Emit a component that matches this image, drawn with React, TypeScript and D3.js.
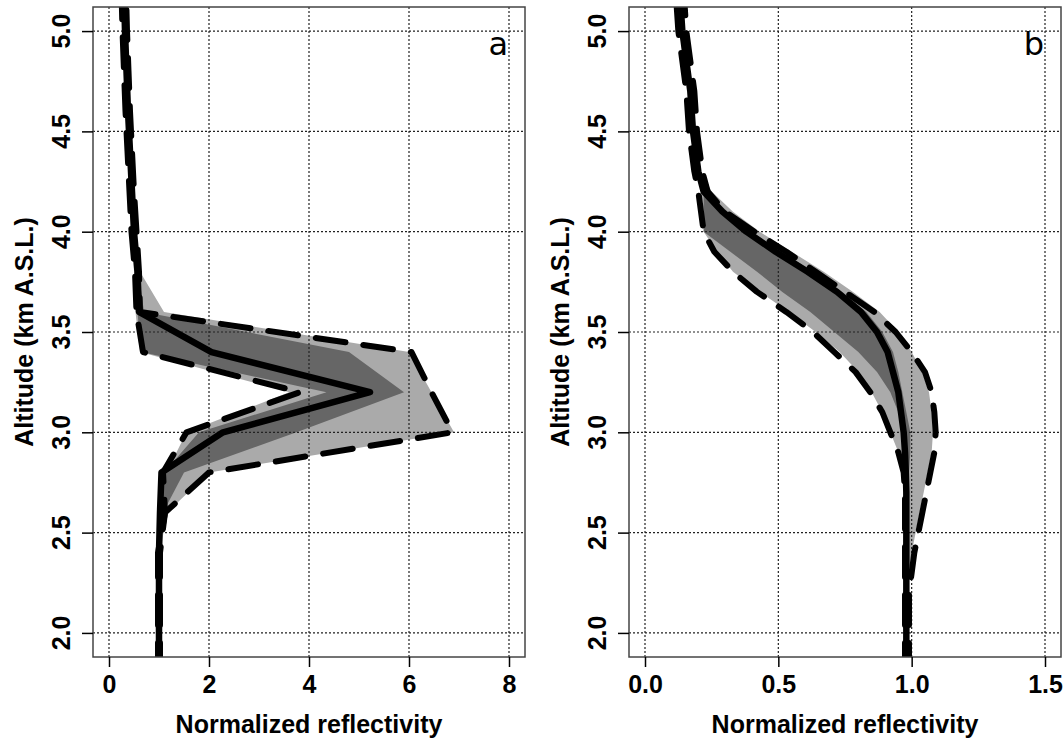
import React, { useEffect, useRef } from "react";
import * as d3 from "d3";

// panel a, profile levels every 0.2 km
const altA = [1.8, 2.0, 2.2, 2.4, 2.6, 2.8, 3.0, 3.2, 3.4, 3.6, 3.8, 4.0, 4.2, 4.4, 4.6, 4.8, 5.0, 5.2];
const medianA = [1.0, 1.0, 1.0, 1.0, 1.02, 1.05, 2.28, 5.22, 2.05, 0.6, 0.57, 0.5, 0.46, 0.42, 0.38, 0.35, 0.32, 0.3];
const lowA = [0.98, 0.98, 0.98, 0.98, 1.12, 1.08, 1.55, 3.82, 0.68, 0.55, 0.52, 0.45, 0.41, 0.37, 0.33, 0.3, 0.27, 0.25];
const highA = [1.02, 1.02, 1.02, 1.02, 1.12, 2.0, 6.87, 6.45, 6.05, 0.62, 0.6, 0.55, 0.5, 0.46, 0.42, 0.39, 0.36, 0.34];
const outerLoA = [0.98, 0.98, 0.98, 0.98, 1.06, 1.15, 1.55, 3.6, 0.62, 0.53, 0.5, 0.46, 0.42, 0.38, 0.34, 0.31, 0.28, 0.26];
const outerHiA = [1.02, 1.02, 1.02, 1.02, 1.16, 2.0, 6.9, 6.45, 6.0, 1.1, 0.62, 0.55, 0.5, 0.46, 0.42, 0.39, 0.36, 0.34];
const innerLoA = [1.0, 1.0, 1.0, 1.0, 1.04, 1.1, 1.8, 4.35, 0.64, 0.57, 0.55, 0.49, 0.45, 0.41, 0.37, 0.34, 0.31, 0.29];
const innerHiA = [1.0, 1.0, 1.0, 1.0, 1.08, 1.5, 3.75, 5.9, 4.8, 0.7, 0.59, 0.51, 0.47, 0.43, 0.39, 0.36, 0.33, 0.31];
const xTicksA = [0, 2, 4, 6, 8];

// panel b, profile levels every 0.1 km
const altB = [1.8, 1.9, 2.0, 2.1, 2.2, 2.3, 2.4, 2.5, 2.6, 2.7, 2.8, 2.9, 3.0, 3.1, 3.2, 3.3, 3.4, 3.5, 3.6, 3.7, 3.8, 3.9, 4.0, 4.1, 4.2, 4.3, 4.4, 4.5, 4.6, 4.7, 4.8, 4.9, 5.0, 5.1, 5.2];
const medianB = [0.98, 0.98, 0.98, 0.98, 0.98, 0.98, 0.98, 0.98, 0.98, 0.98, 0.978, 0.975, 0.97, 0.96, 0.95, 0.93, 0.91, 0.87, 0.81, 0.72, 0.61, 0.49, 0.38, 0.29, 0.22, 0.2, 0.19, 0.18, 0.175, 0.17, 0.16, 0.15, 0.14, 0.135, 0.13];
const lowB = [0.975, 0.975, 0.975, 0.975, 0.975, 0.975, 0.975, 0.975, 0.975, 0.975, 0.97, 0.95, 0.92, 0.89, 0.845, 0.79, 0.71, 0.63, 0.53, 0.42, 0.33, 0.26, 0.22, 0.21, 0.2, 0.185, 0.175, 0.165, 0.16, 0.155, 0.145, 0.135, 0.125, 0.12, 0.115];
const highB = [0.99, 0.99, 0.99, 0.99, 0.99, 1.0, 1.01, 1.025, 1.04, 1.055, 1.07, 1.085, 1.09, 1.085, 1.075, 1.05, 1.0, 0.94, 0.86, 0.75, 0.64, 0.53, 0.41, 0.3, 0.235, 0.215, 0.205, 0.195, 0.19, 0.185, 0.175, 0.165, 0.155, 0.15, 0.145];
const outerLoB = [0.975, 0.975, 0.975, 0.975, 0.975, 0.975, 0.978, 0.975, 0.975, 0.97, 0.965, 0.95, 0.92, 0.89, 0.85, 0.8, 0.73, 0.64, 0.54, 0.43, 0.33, 0.27, 0.22, 0.22, 0.21, 0.19, 0.18, 0.17, 0.165, 0.16, 0.15, 0.14, 0.13, 0.125, 0.12];
const outerHiB = [0.99, 0.99, 0.99, 0.99, 0.99, 0.99, 1.0, 1.015, 1.03, 1.045, 1.06, 1.075, 1.08, 1.075, 1.065, 1.04, 1.0, 0.95, 0.88, 0.78, 0.67, 0.55, 0.43, 0.33, 0.25, 0.21, 0.2, 0.19, 0.185, 0.18, 0.17, 0.16, 0.15, 0.145, 0.14];
const innerLoB = [0.98, 0.98, 0.98, 0.98, 0.98, 0.98, 0.98, 0.98, 0.98, 0.978, 0.975, 0.97, 0.965, 0.95, 0.92, 0.87, 0.8, 0.71, 0.62, 0.515, 0.42, 0.32, 0.22, 0.22, 0.22, 0.2, 0.19, 0.18, 0.175, 0.17, 0.16, 0.15, 0.14, 0.135, 0.13];
const innerHiB = [0.98, 0.98, 0.98, 0.98, 0.98, 0.98, 0.98, 0.98, 0.98, 0.985, 0.99, 0.995, 0.995, 0.98, 0.965, 0.95, 0.93, 0.89, 0.83, 0.74, 0.63, 0.51, 0.4, 0.31, 0.23, 0.2, 0.19, 0.18, 0.175, 0.17, 0.16, 0.15, 0.14, 0.135, 0.13];
const xTicksB = [0.0, 0.5, 1.0, 1.5];

const altTicks = [2.0, 2.5, 3.0, 3.5, 4.0, 4.5, 5.0];

const TOP = 7;
const BOTTOM = 657;
const FONT = "'Liberation Sans', Arial, sans-serif";

type PanelProps = {
  left: number;
  right: number;
  domain: [number, number];
  xTicks: number[];
  fmt: (v: number) => string;
  letter: string;
  alt: number[];
  median: number[];
  low: number[];
  high: number[];
  outerLo: number[];
  outerHi: number[];
  innerLo: number[];
  innerHi: number[];
};

function Panel(props: PanelProps) {
  const ref = useRef<SVGGElement>(null);

  useEffect(() => {
    const { left, right, domain, xTicks, fmt, letter, alt } = props;
    const g = d3.select(ref.current);
    g.selectAll("*").remove();

    const x = d3.scaleLinear().domain(domain).range([left, right]);
    const y = d3.scaleLinear().domain([1.88, 5.12]).range([BOTTOM, TOP]);

    const rows = alt.map((a, i) => ({
      a,
      m: props.median[i],
      lo: props.low[i],
      hi: props.high[i],
      olo: props.outerLo[i],
      ohi: props.outerHi[i],
      ilo: props.innerLo[i],
      ihi: props.innerHi[i]
    }));

    const clipId = "clip-" + letter;
    g.append("clipPath")
      .attr("id", clipId)
      .append("rect")
      .attr("x", left)
      .attr("y", TOP)
      .attr("width", right - left)
      .attr("height", BOTTOM - TOP);

    const plot = g.append("g").attr("clip-path", `url(#${clipId})`);

    const band = (k0: string, k1: string) =>
      d3
        .area<any>()
        .y(d => y(d.a))
        .x0(d => x(d[k0]))
        .x1(d => x(d[k1]));

    plot.append("path").datum(rows).attr("d", band("olo", "ohi")).attr("fill", "#aaaaaa");
    plot.append("path").datum(rows).attr("d", band("ilo", "ihi")).attr("fill", "#666666");

    // dotted grid
    plot
      .append("g")
      .selectAll("line")
      .data(xTicks)
      .join("line")
      .attr("x1", d => x(d))
      .attr("x2", d => x(d))
      .attr("y1", TOP)
      .attr("y2", BOTTOM);
    plot
      .append("g")
      .selectAll("line")
      .data(altTicks)
      .join("line")
      .attr("x1", left)
      .attr("x2", right)
      .attr("y1", d => y(d))
      .attr("y2", d => y(d));
    plot
      .selectAll("g line")
      .attr("stroke", "#222")
      .attr("stroke-width", 1.2)
      .attr("stroke-dasharray", "2,2");

    const line = (k: string) =>
      d3
        .line<any>()
        .y(d => y(d.a))
        .x(d => x(d[k]));

    ["lo", "hi"].forEach(k => {
      plot
        .append("path")
        .datum(rows)
        .attr("d", line(k))
        .attr("fill", "none")
        .attr("stroke", "#000")
        .attr("stroke-width", 6)
        .attr("stroke-dasharray", "30,18")
        .attr("stroke-linecap", "round")
        .attr("stroke-linejoin", "round");
    });
    plot
      .append("path")
      .datum(rows)
      .attr("d", line("m"))
      .attr("fill", "none")
      .attr("stroke", "#000")
      .attr("stroke-width", 6.5)
      .attr("stroke-linejoin", "round");

    // frame
    g.append("rect")
      .attr("x", left)
      .attr("y", TOP)
      .attr("width", right - left)
      .attr("height", BOTTOM - TOP)
      .attr("fill", "none")
      .attr("stroke", "#444")
      .attr("stroke-width", 1.5);

    // x axis
    g.append("g")
      .attr("transform", `translate(0,${BOTTOM})`)
      .call(
        d3
          .axisBottom(x)
          .tickValues(xTicks)
          .tickSize(10)
          .tickPadding(8)
          .tickFormat(d => fmt(d as number))
      )
      .call(ax => {
        ax.select(".domain").remove();
        ax.attr("font-size", 25).attr("font-family", FONT).attr("font-weight", "bold");
        ax.selectAll("line").attr("stroke-width", 1.5);
      });

    // y axis ticks, rotated labels
    g.append("g")
      .attr("transform", `translate(${left},0)`)
      .call(d3.axisLeft(y).tickValues(altTicks).tickSize(11).tickFormat(() => ""))
      .call(ax => {
        ax.select(".domain").remove();
        ax.selectAll("line").attr("stroke-width", 1.5);
      });

    g.append("g")
      .selectAll("text")
      .data(altTicks)
      .join("text")
      .attr("transform", d => `translate(${left - 23},${y(d)}) rotate(-90)`)
      .attr("text-anchor", "middle")
      .attr("font-size", 25)
      .attr("font-family", FONT)
      .attr("font-weight", "bold")
      .text(d => d3.format(".1f")(d));

    g.append("text")
      .attr("x", (left + right) / 2)
      .attr("y", 733)
      .attr("text-anchor", "middle")
      .attr("font-size", 25)
      .attr("font-family", FONT)
      .attr("font-weight", "bold")
      .text("Normalized reflectivity");

    g.append("text")
      .attr("transform", `translate(${left - 60},${(TOP + BOTTOM) / 2}) rotate(-90)`)
      .attr("text-anchor", "middle")
      .attr("font-size", 25)
      .attr("font-family", FONT)
      .attr("font-weight", "bold")
      .text("Altitude (km A.S.L.)");

    g.append("text")
      .attr("x", x(xTicks[xTicks.length - 1]) - 1)
      .attr("y", 55)
      .attr("text-anchor", "end")
      .attr("font-size", 32)
      .attr("font-family", "'DejaVu Sans', sans-serif")
      .text(letter);
  }, []);

  return <g ref={ref} />;
}

export default function App() {
  return (
    <svg
      width={1063}
      height={740}
      style={{ position: "absolute", left: 0, top: 0, background: "#fff" }}
    >
      <Panel
        left={93}
        right={525}
        domain={[-0.32, 8.32]}
        xTicks={xTicksA}
        fmt={d3.format("d")}
        letter="a"
        alt={altA}
        median={medianA}
        low={lowA}
        high={highA}
        outerLo={outerLoA}
        outerHi={outerHiA}
        innerLo={innerLoA}
        innerHi={innerHiA}
      />
      <Panel
        left={629}
        right={1061}
        domain={[-0.06, 1.56]}
        xTicks={xTicksB}
        fmt={d3.format(".1f")}
        letter="b"
        alt={altB}
        median={medianB}
        low={lowB}
        high={highB}
        outerLo={outerLoB}
        outerHi={outerHiB}
        innerLo={innerLoB}
        innerHi={innerHiB}
      />
    </svg>
  );
}
